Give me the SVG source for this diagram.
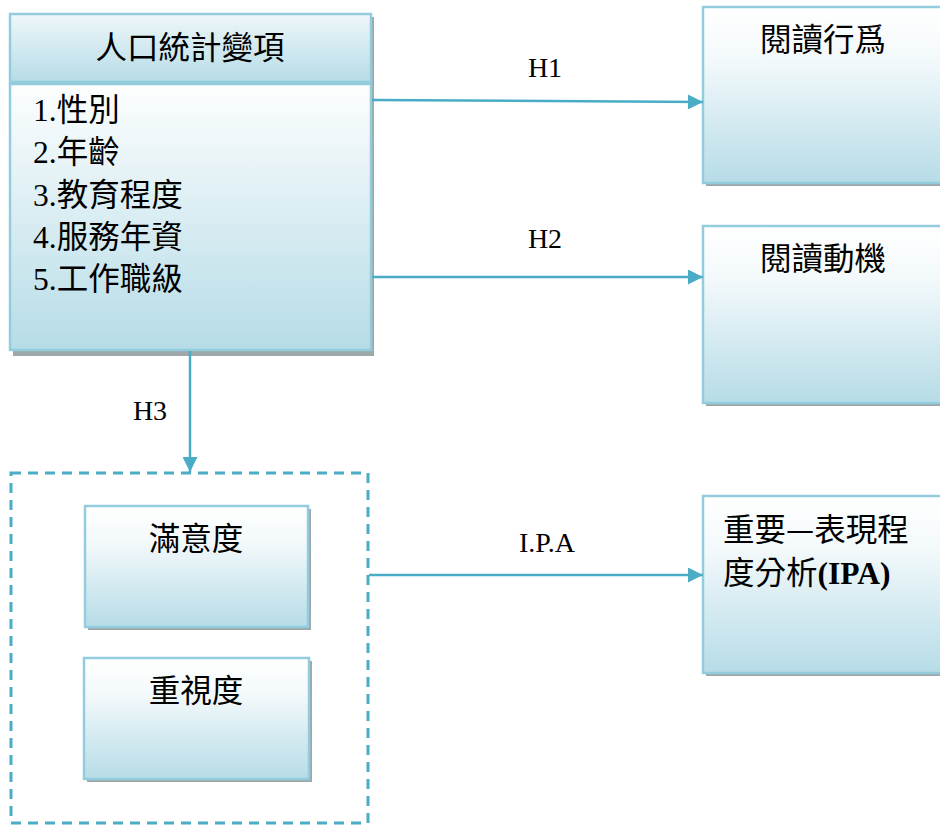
<svg xmlns="http://www.w3.org/2000/svg" width="940" height="825" viewBox="0 0 940 825">
<defs>
<linearGradient id="gBox" x1="0" y1="0" x2="0" y2="1">
<stop offset="0" stop-color="#ffffff"/>
<stop offset="0.3" stop-color="#f3f9fb"/>
<stop offset="1" stop-color="#b6dce7"/>
</linearGradient>
<linearGradient id="gHead" x1="0" y1="0" x2="0" y2="1">
<stop offset="0" stop-color="#eef7f9"/>
<stop offset="1" stop-color="#b6dce7"/>
</linearGradient>
<linearGradient id="gBody" x1="0" y1="0" x2="0" y2="1">
<stop offset="0" stop-color="#fdfefe"/>
<stop offset="1" stop-color="#b6dce7"/>
</linearGradient>
<marker id="arr" viewBox="0 0 10 10" refX="10" refY="5" markerWidth="6.5" markerHeight="6" markerUnits="strokeWidth" orient="auto">
<path d="M0,0 L10,5 L0,10 z" fill="#4bacc6"/>
</marker>
</defs>
<style>
.box{stroke:#93cddd;stroke-width:2.5}
.sh{fill:#9ea7aa}
.cjk{font-family:"Noto Sans CJK TC","Noto Sans CJK SC",sans-serif;font-size:31.5px;fill:#000}
.lat{font-family:"Liberation Serif","Noto Sans CJK TC",serif;font-size:28px;fill:#000}
.num{font-family:"Liberation Serif",serif;font-size:31.5px}
.con{stroke:#4bacc6;stroke-width:2.5;fill:none}
</style>
<rect width="940" height="825" fill="#fff"/>

<g id="demographics">
<rect class="sh" x="13" y="17" width="361" height="339"/>
<rect class="box" x="10" y="84" width="361" height="266" fill="url(#gBody)"/>
<rect class="box" x="10" y="14" width="361" height="68" fill="url(#gHead)"/>
<text class="cjk" x="190" y="59" text-anchor="middle">人口統計變項</text>
<text class="cjk" x="33" y="121"><tspan class="num">1.</tspan>性別<tspan x="33" y="163.25" class="num">2.</tspan>年齡<tspan x="33" y="205.5" class="num">3.</tspan>教育程度<tspan x="33" y="247.75" class="num">4.</tspan>服務年資<tspan x="33" y="290" class="num">5.</tspan>工作職級</text>
</g>

<g id="behavior">
<rect class="sh" x="706" y="10" width="240" height="176"/>
<rect class="box" x="703" y="7" width="240" height="176" fill="url(#gBox)"/>
<text class="cjk" x="823" y="51" text-anchor="middle">閱讀行爲</text>
</g>

<g id="motivation">
<rect class="sh" x="706" y="229" width="240" height="177"/>
<rect class="box" x="703" y="226" width="240" height="177" fill="url(#gBox)"/>
<text class="cjk" x="823" y="270" text-anchor="middle">閱讀動機</text>
</g>

<g id="ipa">
<rect class="sh" x="706" y="499" width="240" height="177"/>
<rect class="box" x="703" y="496" width="240" height="177" fill="url(#gBox)"/>
<text class="cjk" x="723" y="541">重要—表現程<tspan x="723" y="584">度分析</tspan><tspan font-family="Liberation Serif,serif" font-weight="bold">(IPA)</tspan></text>
</g>

<g id="group">
<rect x="11" y="473" width="357" height="350" fill="none" stroke="#4bacc6" stroke-width="3" stroke-dasharray="10,7"/>
</g>

<g id="satisfaction">
<rect class="sh" x="88" y="509" width="223" height="121"/>
<rect class="box" x="85" y="506" width="223" height="121" fill="url(#gBox)"/>
<text class="cjk" x="196" y="550" text-anchor="middle">滿意度</text>
</g>

<g id="importance">
<rect class="sh" x="87" y="661" width="225" height="121"/>
<rect class="box" x="84" y="658" width="225" height="121" fill="url(#gBox)"/>
<text class="cjk" x="196" y="702" text-anchor="middle">重視度</text>
</g>

<g id="connectors">
<line class="con" x1="372" y1="100" x2="703" y2="102" marker-end="url(#arr)"/>
<line class="con" x1="372" y1="277" x2="703" y2="277" marker-end="url(#arr)"/>
<line class="con" x1="190" y1="351" x2="190" y2="472" marker-end="url(#arr)"/>
<line class="con" x1="369" y1="575" x2="703" y2="575" marker-end="url(#arr)"/>
<text class="lat" x="545" y="77" text-anchor="middle">H1</text>
<text class="lat" x="545" y="248" text-anchor="middle">H2</text>
<text class="lat" x="150" y="420" text-anchor="middle">H3</text>
<text class="lat" x="547" y="552" text-anchor="middle">I.P.A</text>
</g>
</svg>
